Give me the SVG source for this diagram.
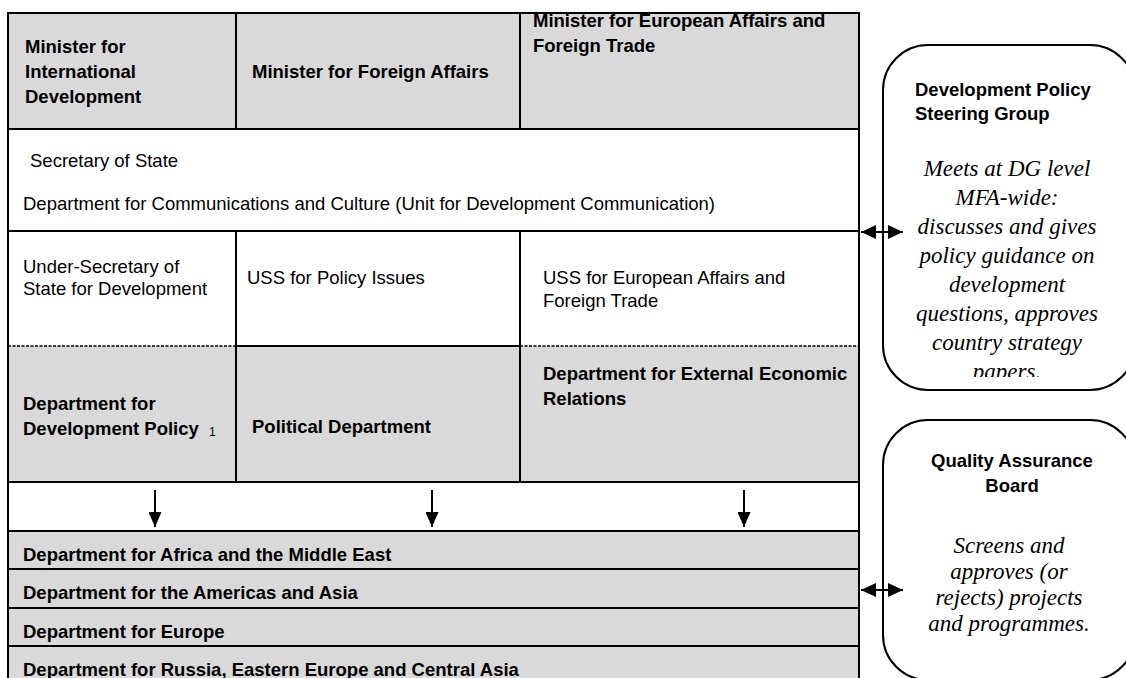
<svg xmlns="http://www.w3.org/2000/svg" width="1126" height="678" viewBox="0 0 1126 678">
<style>
.b{font-family:"Liberation Sans",Arial,sans-serif;font-size:18.5px;font-weight:bold;fill:#000}
.r{font-family:"Liberation Sans",Arial,sans-serif;font-size:18.5px;fill:#000}
.i{font-family:"Liberation Serif","Times New Roman",serif;font-style:italic;font-size:23px;fill:#000}
.g{fill:#d9d9d9}
.w{fill:#fff}
.ln{stroke:#000;stroke-width:2;fill:none}
.dot{stroke:#000;stroke-width:1.3;stroke-dasharray:3 1.5;fill:none}
.box{fill:#fff;stroke:#000;stroke-width:2}
.con{stroke:#000;stroke-width:2;fill:none}
</style>
<defs>
<marker id="ad" viewBox="0 0 10 10" refX="10" refY="5" markerWidth="15" markerHeight="13" orient="auto" markerUnits="userSpaceOnUse" preserveAspectRatio="none">
<path d="M0,0 L10,5 L0,10 z" fill="#000"/>
</marker>
<marker id="ah2" viewBox="0 0 10 10" refX="10" refY="5" markerWidth="15" markerHeight="14" orient="auto-start-reverse" markerUnits="userSpaceOnUse" preserveAspectRatio="none">
<path d="M0,0 L10,5 L0,10 z" fill="#000"/>
</marker>
<clipPath id="clip1"><rect x="880" y="40" width="250" height="337"/></clipPath>
</defs>
<rect x="0" y="0" width="1126" height="678" fill="#fff"/>

<g id="table-background">
<rect class="g" x="8" y="13" width="851" height="116"/>
<rect class="w" x="8" y="129" width="851" height="217"/>
<rect class="g" x="8" y="346" width="851" height="136"/>
<rect class="w" x="8" y="482" width="851" height="49"/>
<rect class="g" x="8" y="531" width="851" height="160"/>
</g>

<g id="grid">
<path class="ln" d="M8,13 H859 M8,129 H859 M8,231 H859 M236,346 H520 M8,482 H859 M8,531 H859 M8,569 H859 M8,608 H859 M8,646 H859"/>
<path class="dot" d="M8,346 H236 M520,346 H859"/>
<path class="ln" d="M8,12 V690 M859,12 V690 M236,13 V129 M520,13 V129 M236,231 V482 M520,231 V482"/>
</g>

<g id="minister-intl-dev"><text class="b" x="25" y="53">Minister for</text><text class="b" x="25" y="78">International</text><text class="b" x="25" y="103">Development</text></g>
<g id="minister-foreign-affairs"><text class="b" x="252" y="78">Minister for Foreign Affairs</text></g>
<g id="minister-european-affairs"><text class="b" x="533" y="27">Minister for European Affairs and</text><text class="b" x="533" y="52">Foreign Trade</text></g>

<g id="secretary-of-state"><text class="r" x="30" y="167">Secretary of State</text><text class="r" x="23" y="210">Department for Communications and Culture (Unit for Development Communication)</text></g>

<g id="uss-development"><text class="r" x="23" y="273">Under-Secretary of</text><text class="r" x="23" y="295">State for Development</text></g>
<g id="uss-policy"><text class="r" x="247" y="284">USS for Policy Issues</text></g>
<g id="uss-european"><text class="r" x="543" y="284">USS for European Affairs and</text><text class="r" x="543" y="307">Foreign Trade</text></g>

<g id="dept-dev-policy"><text class="b" x="23" y="410">Department for</text><text class="b" x="23" y="435">Development Policy</text><text class="r" x="209" y="436" style="font-size:12px">1</text></g>
<g id="political-dept"><text class="b" x="252" y="433">Political Department</text></g>
<g id="dept-external-economic"><text class="b" x="543" y="380">Department for External Economic</text><text class="b" x="543" y="405">Relations</text></g>

<g id="dept-africa"><text class="b" x="23" y="561">Department for Africa and the Middle East</text></g>
<g id="dept-americas"><text class="b" x="23" y="599">Department for the Americas and Asia</text></g>
<g id="dept-europe"><text class="b" x="23" y="638">Department for Europe</text></g>
<g id="dept-russia"><text class="b" x="23" y="676">Department for Russia, Eastern Europe and Central Asia</text></g>

<g id="steering-group">
<rect class="box" x="883" y="45" width="252" height="345" rx="45" ry="45"/>
<text class="b" x="915" y="96">Development Policy</text>
<text class="b" x="915" y="120">Steering Group</text>
<g clip-path="url(#clip1)" text-anchor="middle">
<text class="i" x="1007" y="176">Meets at DG level</text>
<text class="i" x="1007" y="205">MFA-wide:</text>
<text class="i" x="1007" y="234">discusses and gives</text>
<text class="i" x="1007" y="263">policy guidance on</text>
<text class="i" x="1007" y="292">development</text>
<text class="i" x="1007" y="321">questions, approves</text>
<text class="i" x="1007" y="350">country strategy</text>
<text class="i" x="1007" y="379">papers.</text>
</g>
</g>

<g id="quality-assurance-board">
<rect class="box" x="883" y="420" width="252" height="260" rx="45" ry="45"/>
<text class="b" x="1012" y="467" text-anchor="middle">Quality Assurance</text>
<text class="b" x="1012" y="492" text-anchor="middle">Board</text>
<g text-anchor="middle">
<text class="i" x="1009" y="553">Screens and</text>
<text class="i" x="1009" y="579">approves (or</text>
<text class="i" x="1009" y="605">rejects) projects</text>
<text class="i" x="1009" y="631">and programmes.</text>
</g>
</g>

<g id="connectors">
<line class="con" x1="155" y1="490" x2="155" y2="527" marker-end="url(#ad)"/>
<line class="con" x1="432" y1="490" x2="432" y2="527" marker-end="url(#ad)"/>
<line class="con" x1="744" y1="490" x2="744" y2="527" marker-end="url(#ad)"/>
<line class="con" x1="861" y1="232" x2="903" y2="232" stroke-width="2.5" marker-start="url(#ah2)" marker-end="url(#ah2)"/>
<line class="con" x1="861" y1="590" x2="903" y2="590" stroke-width="2.5" marker-start="url(#ah2)" marker-end="url(#ah2)"/>
</g>
</svg>
